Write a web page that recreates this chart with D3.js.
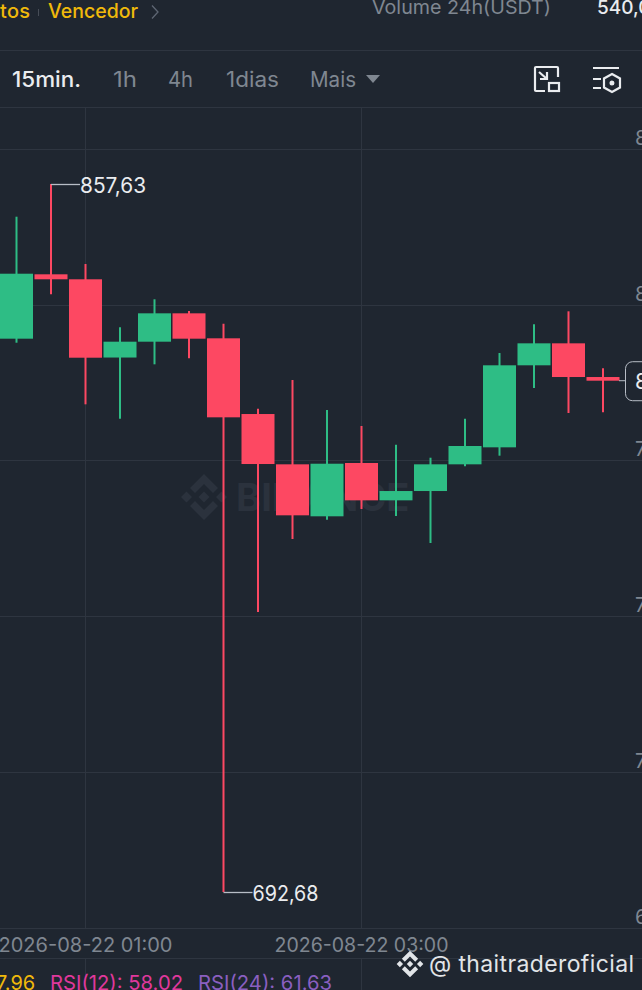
<!DOCTYPE html>
<html>
<head>
<meta charset="utf-8">
<script src="https://cdnjs.cloudflare.com/ajax/libs/d3/7.8.5/d3.min.js"></script>
<style>
html, body { margin: 0; padding: 0; background: #1f2630; overflow: hidden; }
text { font-family: Inter, "Noto Sans", sans-serif; }
</style>
</head>
<body>
<svg id="chart" width="642" height="990"></svg>
<script>
// candles, 15 min apart
const times = ["00:30","00:45","01:00","01:15","01:30","01:45","02:00","02:15","02:30","02:45","03:00","03:15","03:30","03:45","04:00","04:15","04:30","04:45"];
const opens  = [821.59,836.59,835.43,817.20,820.89,827.50,821.68,804.04,792.32,780.21,792.63,783.93,786.10,792.32,796.28,815.39,820.51,812.66];
const highs  = [850.01,857.63,838.99,824.24,830.77,828.04,825.08,805.28,811.96,804.97,801.25,796.89,793.86,802.95,818.25,824.94,827.97,814.69];
const lows   = [820.65,831.93,806.30,802.95,815.62,817.02,692.68,757.91,774.92,779.41,781.91,780.28,773.99,791.86,794.33,810.10,804.28,804.44];
const closes = [836.73,835.43,817.16,820.89,827.50,821.59,803.27,792.39,780.44,792.46,783.93,786.10,792.32,796.59,815.39,820.51,812.66,811.80];

const priceGrid = [865.8,829.5,793.3,757.0,720.7,684.4];
const priceLabels = ["8","8","7","7","7","6"];
const timeGrid = ["01:00","03:00"];
const timeLabels = ["2026-08-22 01:00","2026-08-22 03:00"];
const intervals = ["15min.","1h","4h","1dias","Mais"];
const intervalX = [12,113,168,226,310];
const intervalW = [69,24,25,53,46];
const maxLabel = "857,63";
const minLabel = "692,68";
const lastLabel = "8";

const bg = "#1f2630", grid = "#2e3540", up = "#2ebd85", down = "#fd4862";
const muted = "#7f8791", white = "#eaecef";

const svg = d3.select("#chart");
const parseT = d3.timeParse("%H:%M");

const x = d3.scaleTime()
  .domain([parseT("01:00"), parseT("03:00")])
  .range([85.5, 361.5]);
const y = d3.scaleLinear()
  .domain([857.63, 692.68])
  .range([184, 892]);

const candles = times.map((t, i) => ({
  t: parseT(t), open: opens[i], high: highs[i], low: lows[i], close: closes[i]
}));

// header
svg.append("text").attr("x", 0).attr("y", 18).attr("font-size", 20).attr("font-weight", 500).attr("fill", "#f0b90b").attr("textLength", 30).text("tos");
svg.append("line").attr("x1", 38.5).attr("x2", 38.5).attr("y1", 9).attr("y2", 16).attr("stroke", "#474d57");
svg.append("text").attr("x", 48).attr("y", 18).attr("font-size", 20).attr("font-weight", 500).attr("fill", "#f0b90b").attr("textLength", 90).attr("lengthAdjust", "spacingAndGlyphs").text("Vencedor");
svg.append("path").attr("d", "M152 5.5l6 6.5l-6 6.5").attr("fill", "none").attr("stroke", "#5e6673").attr("stroke-width", 1.3);
svg.append("text").attr("x", 372).attr("y", 14).attr("font-size", 19).attr("fill", muted).attr("textLength", 179).attr("lengthAdjust", "spacingAndGlyphs").text("Volume 24h(USDT)");
svg.append("text").attr("x", 597).attr("y", 14).attr("font-size", 19).attr("font-weight", 500).attr("fill", white).text("540,0");

svg.append("line").attr("x1", 0).attr("x2", 642).attr("y1", 50.5).attr("y2", 50.5).attr("stroke", grid);
svg.append("line").attr("x1", 0).attr("x2", 642).attr("y1", 107.5).attr("y2", 107.5).attr("stroke", grid);

intervals.forEach((s, i) => {
  svg.append("text").attr("x", intervalX[i]).attr("y", 87).attr("font-size", 21)
    .attr("font-weight", i === 0 ? 500 : 400)
    .attr("textLength", intervalW[i]).attr("lengthAdjust", "spacingAndGlyphs")
    .attr("fill", i === 0 ? white : muted).text(s);
});
svg.append("path").attr("d", "M366 75h14l-7 8z").attr("fill", muted);

// toolbar icons
const icon = svg.append("g").attr("fill", "none").attr("stroke", white).attr("stroke-width", 2.2);
icon.append("path").attr("d", "M545 91h-9a1 1 0 0 1 -1 -1v-22a1 1 0 0 1 1 -1h21a1 1 0 0 1 1 1v9");
icon.append("rect").attr("x", 549).attr("y", 83).attr("width", 10).attr("height", 8);
icon.append("path").attr("d", "M539 72l8 7M547 72v7h-7");
icon.append("path").attr("d", "M593 68h26M593 79h8M593 88h8");
icon.append("path").attr("d", "M612 74l8 4.5v9l-8 4.5l-8 -4.5v-9z");
icon.append("circle").attr("cx", 612).attr("cy", 83).attr("r", 1.4).attr("fill", white);

// grid
svg.append("g").selectAll("line").data(priceGrid).join("line")
  .attr("x1", 0).attr("x2", 642)
  .attr("y1", d => Math.round(y(d)) + 0.5).attr("y2", d => Math.round(y(d)) + 0.5)
  .attr("stroke", grid);
svg.append("g").selectAll("line").data(timeGrid).join("line")
  .attr("x1", d => x(parseT(d))).attr("x2", d => x(parseT(d)))
  .attr("y1", 108).attr("y2", 928)
  .attr("stroke", grid);
svg.append("g").selectAll("line").data(timeGrid).join("line")
  .attr("x1", d => x(parseT(d))).attr("x2", d => x(parseT(d)))
  .attr("y1", 958).attr("y2", 990)
  .attr("stroke", grid);
svg.append("line").attr("x1", 0).attr("x2", 642).attr("y1", 958.5).attr("y2", 958.5).attr("stroke", grid);

// binance mark, used faint behind the candles and small in the watermark
const logo = "M0 -23L14 -9L9 -4L0 -13L-9 -4L-14 -9ZM0 23L14 9L9 4L0 13L-9 4L-14 9ZM-23 0L-17.5 -5.5L-12 0L-17.5 5.5ZM12 0L17.5 -5.5L23 0L17.5 5.5ZM0 -5.5L5.5 0L0 5.5L-5.5 0Z";
const mark = svg.append("g").attr("fill", "#2b323d");
mark.append("path").attr("transform", "translate(204,497)").attr("d", logo);
mark.append("text").attr("x", 236).attr("y", 511).attr("font-size", 38).attr("font-weight", 700).text("BINANCE");

// candles
const bodyW = 33;
const g = svg.append("g").selectAll("g").data(candles).join("g")
  .attr("fill", d => d.close >= d.open ? up : down)
  .attr("stroke", d => d.close >= d.open ? up : down);
g.append("line")
  .attr("x1", d => x(d.t)).attr("x2", d => x(d.t))
  .attr("y1", d => y(d.high)).attr("y2", d => y(d.low))
  .attr("stroke-width", 2);
g.append("rect")
  .attr("x", d => x(d.t) - bodyW / 2)
  .attr("width", bodyW)
  .attr("y", d => y(Math.max(d.open, d.close)))
  .attr("height", d => Math.abs(y(d.open) - y(d.close)))
  .attr("stroke", "none");

// price axis labels, cut by the window edge as in the screenshot
svg.append("g").selectAll("text").data(priceGrid).join("text")
  .attr("x", 635).attr("y", d => y(d) - 4)
  .attr("font-size", 20).attr("fill", muted)
  .text((d, i) => priceLabels[i]);

// max / min annotations
const maxC = candles[1], minC = candles[6];
svg.append("path").attr("d", `M${x(maxC.t)} ${y(maxC.high) + 0.5}H${x(maxC.t) + 29}`).attr("stroke", "#b7bdc6").attr("stroke-width", 1.3).attr("fill", "none");
svg.append("text").attr("x", x(maxC.t) + 29).attr("y", y(maxC.high) + 9).attr("font-size", 21).attr("fill", white).attr("textLength", 66).attr("lengthAdjust", "spacingAndGlyphs").text(maxLabel);
svg.append("path").attr("d", `M${x(minC.t)} ${y(minC.low) + 0.5}H${x(minC.t) + 29}`).attr("stroke", "#b7bdc6").attr("stroke-width", 1.3).attr("fill", "none");
svg.append("text").attr("x", x(minC.t) + 29).attr("y", y(minC.low) + 9).attr("font-size", 21).attr("fill", white).attr("textLength", 66).attr("lengthAdjust", "spacingAndGlyphs").text(minLabel);

// last price tag
const lastY = y(closes[closes.length - 1]);
svg.append("line").attr("x1", 619).attr("x2", 625).attr("y1", lastY).attr("y2", lastY).attr("stroke", "#b7bdc6");
svg.append("rect").attr("x", 625.5).attr("y", lastY - 19).attr("width", 40).attr("height", 39).attr("rx", 7).attr("fill", bg).attr("stroke", "#b7bdc6");
svg.append("text").attr("x", 635).attr("y", lastY + 8).attr("font-size", 21).attr("fill", white).text(lastLabel);

// time axis
svg.append("line").attr("x1", 0).attr("x2", 642).attr("y1", 928.5).attr("y2", 928.5).attr("stroke", grid);
timeGrid.forEach((t, i) => {
  svg.append("text").attr("x", x(parseT(t))).attr("y", 952).attr("text-anchor", "middle")
    .attr("font-size", 20).attr("fill", muted)
    .attr("textLength", 174).attr("lengthAdjust", "spacingAndGlyphs").text(timeLabels[i]);
});

// RSI row
svg.append("text").attr("x", -4).attr("y", 990).attr("font-size", 20).attr("fill", "#f0b90b").text("7.96");
svg.append("text").attr("x", 50).attr("y", 990).attr("font-size", 20).attr("fill", "#e0389c").attr("textLength", 133).attr("lengthAdjust", "spacingAndGlyphs").text("RSI(12): 58.02");
svg.append("text").attr("x", 198).attr("y", 990).attr("font-size", 20).attr("fill", "#8a5fc0").attr("textLength", 134).attr("lengthAdjust", "spacingAndGlyphs").text("RSI(24): 61.63");

// watermark
const wm = svg.append("g").attr("fill", "#e2e5e8");
wm.append("path").attr("transform", "translate(410,964) scale(0.58)").attr("d", logo);
wm.append("text").attr("x", 429).attr("y", 972).attr("font-size", 23).attr("textLength", 205).text("@ thaitraderoficial");
</script>
</body>
</html>
